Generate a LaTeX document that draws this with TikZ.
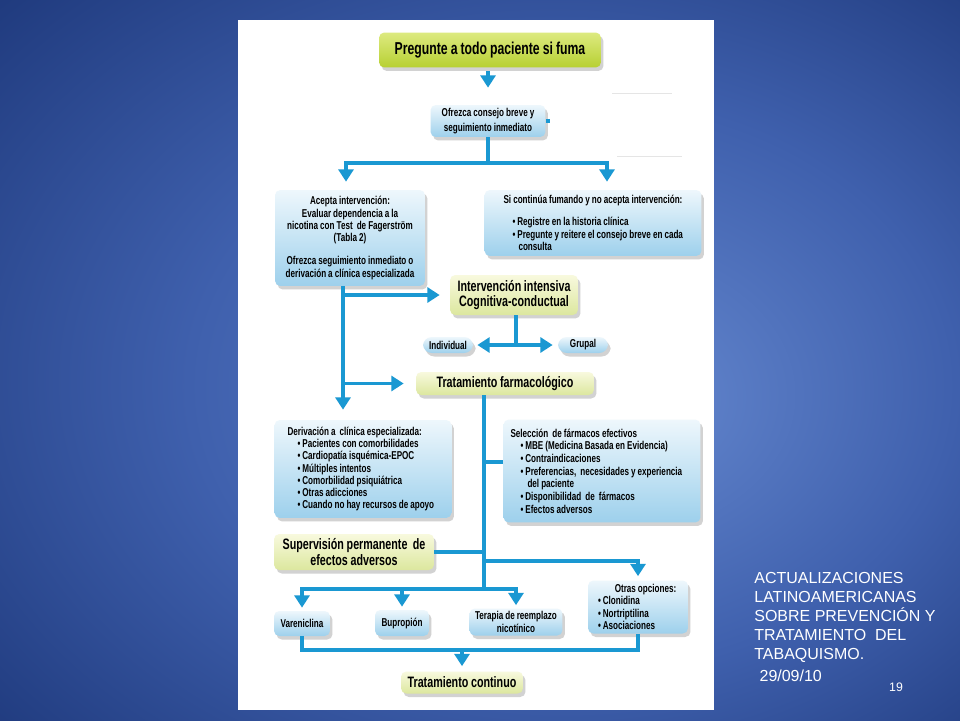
\documentclass[tikz,border=0pt]{standalone}
\usepackage{fontspec}
\setmainfont{Liberation Sans}
\newfontfamily\condfont[FakeStretch=0.71, WordSpace=0.9]{Liberation Sans}
\usetikzlibrary{arrows.meta,shadows}

\definecolor{flowblue}{HTML}{1A98D2}
\definecolor{bgin}{HTML}{6487CE}
\definecolor{bgmid}{HTML}{3F60AD}
\definecolor{bgdark}{HTML}{1B3577}
\definecolor{bgout}{HTML}{0E2463}
\definecolor{boxtop}{HTML}{EEF7FC}
\definecolor{boxbot}{HTML}{9DD0EC}
\definecolor{limetop}{HTML}{DDEA80}
\definecolor{limebot}{HTML}{B7D032}
\definecolor{paletop}{HTML}{F8F9DE}
\definecolor{palebot}{HTML}{DCE79E}
\pgfdeclareradialshading{slidebg}{\pgfpoint{8bp}{-3bp}}{color(0bp)=(bgin); color(20bp)=(bgmid); color(40bp)=(bgdark); color(50bp)=(bgout)}

\newcommand{\flowsmall}{\condfont\bfseries\fontsize{6.5}{7}\selectfont}
\newcommand{\flowmid}{\condfont\bfseries\fontsize{8.6}{8.9}\selectfont}
\newcommand{\flowbig}{\condfont\bfseries\fontsize{9.8}{10}\selectfont}

\begin{document}
\begin{tikzpicture}[x=0.02cm, y=-0.02cm,
    box/.style={rounded corners=3pt, inner sep=0pt,
      drop shadow={shadow xshift=0.05cm, shadow yshift=-0.07cm, opacity=0.25, fill=black!70}},
    bluebox/.style={box, top color=boxtop, bottom color=boxbot, font=\flowsmall, align=center},
    limebox/.style={box, top color=limetop, bottom color=limebot, font=\flowbig},
    palebox/.style={box, top color=paletop, bottom color=palebot, font=\flowmid, align=center},
    flow/.style={draw=flowblue, line width=2.1pt},
    arr/.style={flow, -{Triangle[width=8.5pt, length=7pt]}}]

        % Slide and white page
        \useasboundingbox (0,0) rectangle (960,720);
        \shade[shading=slidebg] (0,0) rectangle (960,720);
        \fill[white] (238,20) rectangle (714,710);
        \draw[black!10, line width=0.5pt] (612,93) -- (672,93);
        \draw[black!10, line width=0.5pt] (617,156) -- (682,156);

        % Nodes
        \node[limebox, minimum width=4.44cm, minimum height=0.7cm] (fuma) at (490,50) {Pregunte a todo paciente si fuma};
        \node[bluebox, minimum width=2.3cm, minimum height=0.64cm,
              font={\condfont\bfseries\fontsize{6.5}{8.6}\selectfont}] (consejo) at (488,121) {Ofrezca consejo breve y\\seguimiento inmediato};

        \node[bluebox, minimum width=3cm, minimum height=1.92cm] (acepta) at (350,238)
            {Acepta intervención:\\Evaluar dependencia a la\\nicotina con Test\ \ de Fagerström\\(Tabla 2)\\[6pt]Ofrezca seguimiento inmediato o\\derivación a clínica especializada};
        \node[bluebox, align=flush left, text width=4.22cm, inner xsep=0.06cm, minimum height=1.32cm] (sigue) at (593,223)
            {\makebox[\linewidth]{Si continúa fumando y no acepta intervención:}\\[5.5pt]
             \hspace*{0.5cm}\textbullet\ Registre en la historia clínica\\
             \hspace*{0.5cm}\textbullet\ Pregunte y reitere el consejo breve en cada\\
             \hspace*{0.62cm}consulta};

        \node[palebox, minimum width=2.56cm, minimum height=0.8cm] (intens) at (514,295) {Intervención intensiva\\Cognitiva-conductual};
        \node[bluebox, rounded corners=5pt, minimum width=1cm, minimum height=0.32cm] (indiv) at (448,345) {Individual};
        \node[bluebox, rounded corners=5pt, minimum width=1cm, minimum height=0.32cm] (grupal) at (583,345) {Grupal};
        \node[palebox, minimum width=3.56cm, minimum height=0.46cm] (farma) at (505,383.5) {Tratamiento farmacológico};

        \node[bluebox, align=flush left, text width=3.42cm, inner xsep=0.06cm, minimum height=1.96cm] (deriv) at (363,469)
            {\hspace*{0.2cm}Derivación a\ \ clínica especializada:\\
             \hspace*{0.4cm}\textbullet\ Pacientes con comorbilidades\\
             \hspace*{0.4cm}\textbullet\ Cardiopatía isquémica-EPOC\\
             \hspace*{0.4cm}\textbullet\ Múltiples intentos\\
             \hspace*{0.4cm}\textbullet\ Comorbilidad psiquiátrica\\
             \hspace*{0.4cm}\textbullet\ Otras adicciones\\
             \hspace*{0.4cm}\textbullet\ Cuando no hay recursos de apoyo};
        \node[bluebox, align=flush left, text width=3.82cm, inner xsep=0.06cm, minimum height=2.06cm,
              font={\condfont\bfseries\fontsize{6.5}{7.2}\selectfont}] (selec) at (602,471)
            {\hspace*{0.08cm}Selección\ \ de fármacos efectivos\\
             \hspace*{0.28cm}\textbullet\ MBE (Medicina Basada en Evidencia)\\
             \hspace*{0.28cm}\textbullet\ Contraindicaciones\\
             \hspace*{0.28cm}\textbullet\ Preferencias,\ \ necesidades y experiencia\\
             \hspace*{0.42cm}del paciente\\
             \hspace*{0.28cm}\textbullet\ Disponibilidad\ \ de\ \ fármacos\\
             \hspace*{0.28cm}\textbullet\ Efectos adversos};

        \node[palebox, minimum width=3.2cm, minimum height=0.72cm] (superv) at (354,552) {Supervisión permanente\ \ de\\efectos adversos};

        \node[bluebox, minimum width=1.12cm, minimum height=0.5cm] (vare) at (302,623.5) {Vareniclina};
        \node[bluebox, minimum width=1.08cm, minimum height=0.52cm] (bupro) at (402,623) {Bupropión};
        \node[bluebox, minimum width=1.86cm, minimum height=0.54cm] (terapia) at (516,622) {Terapia de reemplazo\\nicotínico};
        \node[bluebox, align=flush left, text width=1.88cm, inner xsep=0.06cm, minimum height=1.06cm] (otras) at (638,607)
            {\makebox[\linewidth]{\hspace*{0.3cm}Otras opciones:}\\
             \hspace*{0.14cm}\textbullet\ Clonidina\\
             \hspace*{0.14cm}\textbullet\ Nortriptilina\\
             \hspace*{0.14cm}\textbullet\ Asociaciones};

        \node[palebox, minimum width=2.44cm, minimum height=0.44cm] (continuo) at (462,682.5) {Tratamiento continuo};

        % Slide caption
        \node[text=white, font=\fontsize{9.1}{10.8}\selectfont, align=left, anchor=north west, inner sep=0pt] (fuente) at (754,572)
            {ACTUALIZACIONES\\LATINOAMERICANAS\\SOBRE PREVENCIÓN Y\\TRATAMIENTO\ \ DEL\\TABAQUISMO.\\[1.5pt]\hspace*{3pt}29/09/10};
        \node[text=white, font=\fontsize{7}{8}\selectfont] (pagina) at (896,687) {19};

        % Branch points
        \coordinate (trunkL) at (343,0);
        \coordinate (trunkR) at (484,0);
        \coordinate (split) at (488,163);
        \coordinate (stub) at (550,121);
        \coordinate (ig) at (516,345);
        \coordinate (selY) at (0,462);
        \coordinate (otrasY) at (0,561);
        \coordinate (fanY) at (0,589);
        \coordinate (joinY) at (0,650);

        % Top part
        \draw[arr, shorten <=0.06cm, shorten >=0.34cm] (fuma.south -| consejo) -- (consejo.north);
        \draw[flow] (consejo.east) -- (stub);
        \draw[flow] (consejo.south) -- (split);
        \draw[arr, shorten >=0.16cm] (split) -| ([xshift=-0.08cm]acepta.north);
        \draw[arr, shorten >=0.16cm] (split) -| ([xshift=0.28cm]sigue.north);

        % Left trunk
        \draw[arr, shorten >=0.2cm] (acepta.south -| trunkL) -- (deriv.north -| trunkL);
        \draw[arr, shorten >=0.2cm] (intens.west -| trunkL) -- (intens.west);
        \draw[arr, shorten >=0.24cm] (farma.west -| trunkL) -- (farma.west);

        % Individual or group
        \draw[flow] (intens.south -| ig) -- (ig);
        \draw[arr, shorten >=0.08cm] (ig) -- (indiv.east);
        \draw[arr, shorten >=0.1cm] (ig) -- (grupal.west);

        % Right trunk
        \draw[flow] (farma.south -| trunkR) -- (fanY -| trunkR);
        \draw[flow] (selY -| trunkR) -- (selY -| selec.west);
        \draw[flow] (superv.east) -- (superv.east -| trunkR);
        \draw[arr, shorten >=0.08cm] (otrasY -| trunkR) -| (otras);
        \draw[arr, shorten >=0.06cm] (fanY -| trunkR) -| (vare);
        \draw[arr, shorten >=0.06cm] (fanY -| trunkR) -| (bupro);
        \draw[arr, shorten >=0.06cm] (fanY -| trunkR) -| (terapia);

        % Join to continuous treatment
        \draw[flow] (vare.south) |- (joinY -| otras) -- (otras.south);
        \draw[arr, shorten >=0.1cm] (joinY -| continuo) -- (continuo.north);
\end{tikzpicture}
\end{document}
